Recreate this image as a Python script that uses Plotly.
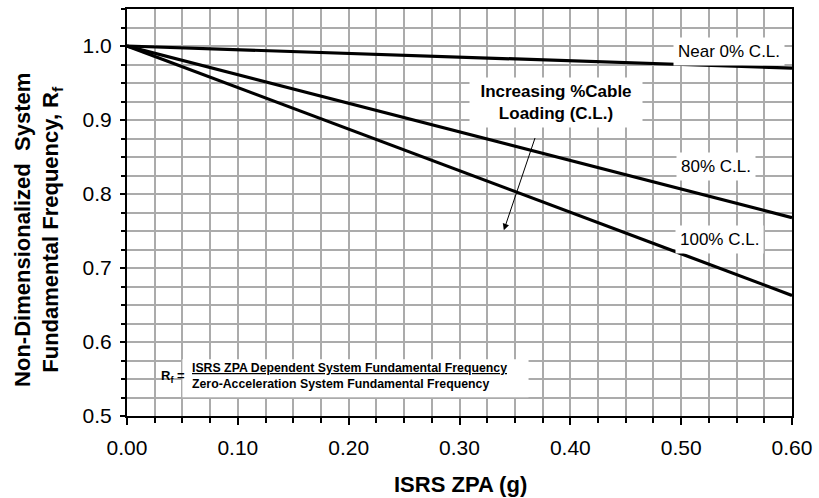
import plotly.graph_objects as go

# Data
zpa = [0.0, 0.60]
near0_cl = [1.0, 0.970]
cl80 = [1.0, 0.768]
cl100 = [1.0, 0.663]
series_names = ["Near 0% C.L.", "80% C.L.", "100% C.L."]
x_ticks = [0.0, 0.1, 0.2, 0.3, 0.4, 0.5, 0.6]
y_ticks = [0.5, 0.6, 0.7, 0.8, 0.9, 1.0]

FONT = "Arial, 'Liberation Sans', sans-serif"

fig = go.Figure()
for name, ys in zip(series_names, [near0_cl, cl80, cl100]):
    fig.add_trace(go.Scatter(x=zpa, y=ys, mode="lines", name=name,
                             line=dict(color="black", width=3.2), showlegend=False))

grid_col = "#ababab"
fig.update_xaxes(
    range=[0, 0.6], tickvals=x_ticks, ticktext=[f"{v:.2f}" for v in x_ticks],
    showgrid=True, gridcolor=grid_col, gridwidth=1.5,
    ticks="outside", ticklen=7, tickwidth=1.5, tickcolor="black",
    minor=dict(dtick=0.025, tick0=0, showgrid=True, gridcolor=grid_col, gridwidth=1.5,
               ticks="outside", ticklen=5, tickwidth=1.5, tickcolor="black"),
    showline=True, linecolor="black", linewidth=2, mirror=True,
    tickfont=dict(family=FONT, size=21, color="black"), zeroline=False,
    ticklabelstandoff=5,
)
fig.update_yaxes(
    range=[0.5, 1.05], tickvals=y_ticks, ticktext=[f"{v:.1f}" for v in y_ticks],
    showgrid=True, gridcolor=grid_col, gridwidth=1.5,
    ticks="outside", ticklen=5, tickwidth=1.5, tickcolor="black",
    minor=dict(dtick=0.025, tick0=0.5, showgrid=True, gridcolor=grid_col, gridwidth=1.5,
               ticks="outside", ticklen=4, tickwidth=1.5, tickcolor="black"),
    showline=True, linecolor="black", linewidth=2, mirror=True,
    tickfont=dict(family=FONT, size=21, color="black"), zeroline=False,
    ticklabelstandoff=4,
)

# formula background box
fig.add_shape(type="rect", xref="x", yref="y", x0=0.050, x1=0.3623, y0=0.5255, y1=0.5766,
              fillcolor="white", line=dict(width=0), layer="above")

ann = []
lab = dict(family=FONT, size=17, color="black")
ann.append(dict(x=0.543, y=0.992, xref="x", yref="y", text="Near 0% C.L.", showarrow=False,
                font=lab, bgcolor="white", borderpad=4))
ann.append(dict(x=0.531, y=0.837, xref="x", yref="y", text="80% C.L.", showarrow=False,
                font=lab, bgcolor="white", borderpad=4))
ann.append(dict(x=0.5345, y=0.739, xref="x", yref="y", text="100% C.L.", showarrow=False,
                font=lab, bgcolor="white", borderpad=4))
ann.append(dict(x=0.3874, y=0.923, xref="x", yref="y",
                text="<b>Increasing %Cable<br>Loading (C.L.)</b>", showarrow=False,
                font=lab, bgcolor="white", borderpad=4, width=164))
ann.append(dict(x=0.340, y=0.751, ax=0.3686, ay=0.8777, xref="x", yref="y", axref="x", ayref="y",
                text="", showarrow=True, arrowhead=2, arrowsize=1.3, arrowwidth=1, arrowcolor="black"))
ann.append(dict(x=0.0538, y=0.5538, xref="x", yref="y", xanchor="right", yanchor="middle",
                text="<b>R<sub>f</sub> =</b>", showarrow=False,
                font=dict(family=FONT, size=13, color="black")))
ann.append(dict(x=0.0565, y=0.5538, xref="x", yref="y", xanchor="left", yanchor="middle", align="left",
                text="<b><u>ISRS ZPA Dependent System Fundamental Frequency</u><br>"
                     "Zero-Acceleration System Fundamental Frequency</b>",
                showarrow=False, font=dict(family=FONT, size=12.3, color="black")))
# axis titles
ann.append(dict(x=0.502, y=-0.169, xref="paper", yref="paper", xanchor="center", yanchor="middle",
                text="<b>ISRS ZPA (g)</b>",
                showarrow=False, font=dict(family=FONT, size=22, color="black")))
ann.append(dict(x=-0.134, y=0.457, xref="paper", yref="paper", xanchor="center", yanchor="middle",
                textangle=-90,
                text="<b>Non-Dimensionalized  System<br>Fundamental Frequency, R<sub>f</sub></b>",
                showarrow=False, font=dict(family=FONT, size=22, color="black")))

fig.update_layout(
    width=819, height=498, margin=dict(l=127, r=23, t=7, b=82),
    plot_bgcolor="white", paper_bgcolor="white", annotations=ann,
)
fig.write_html("out.html")
